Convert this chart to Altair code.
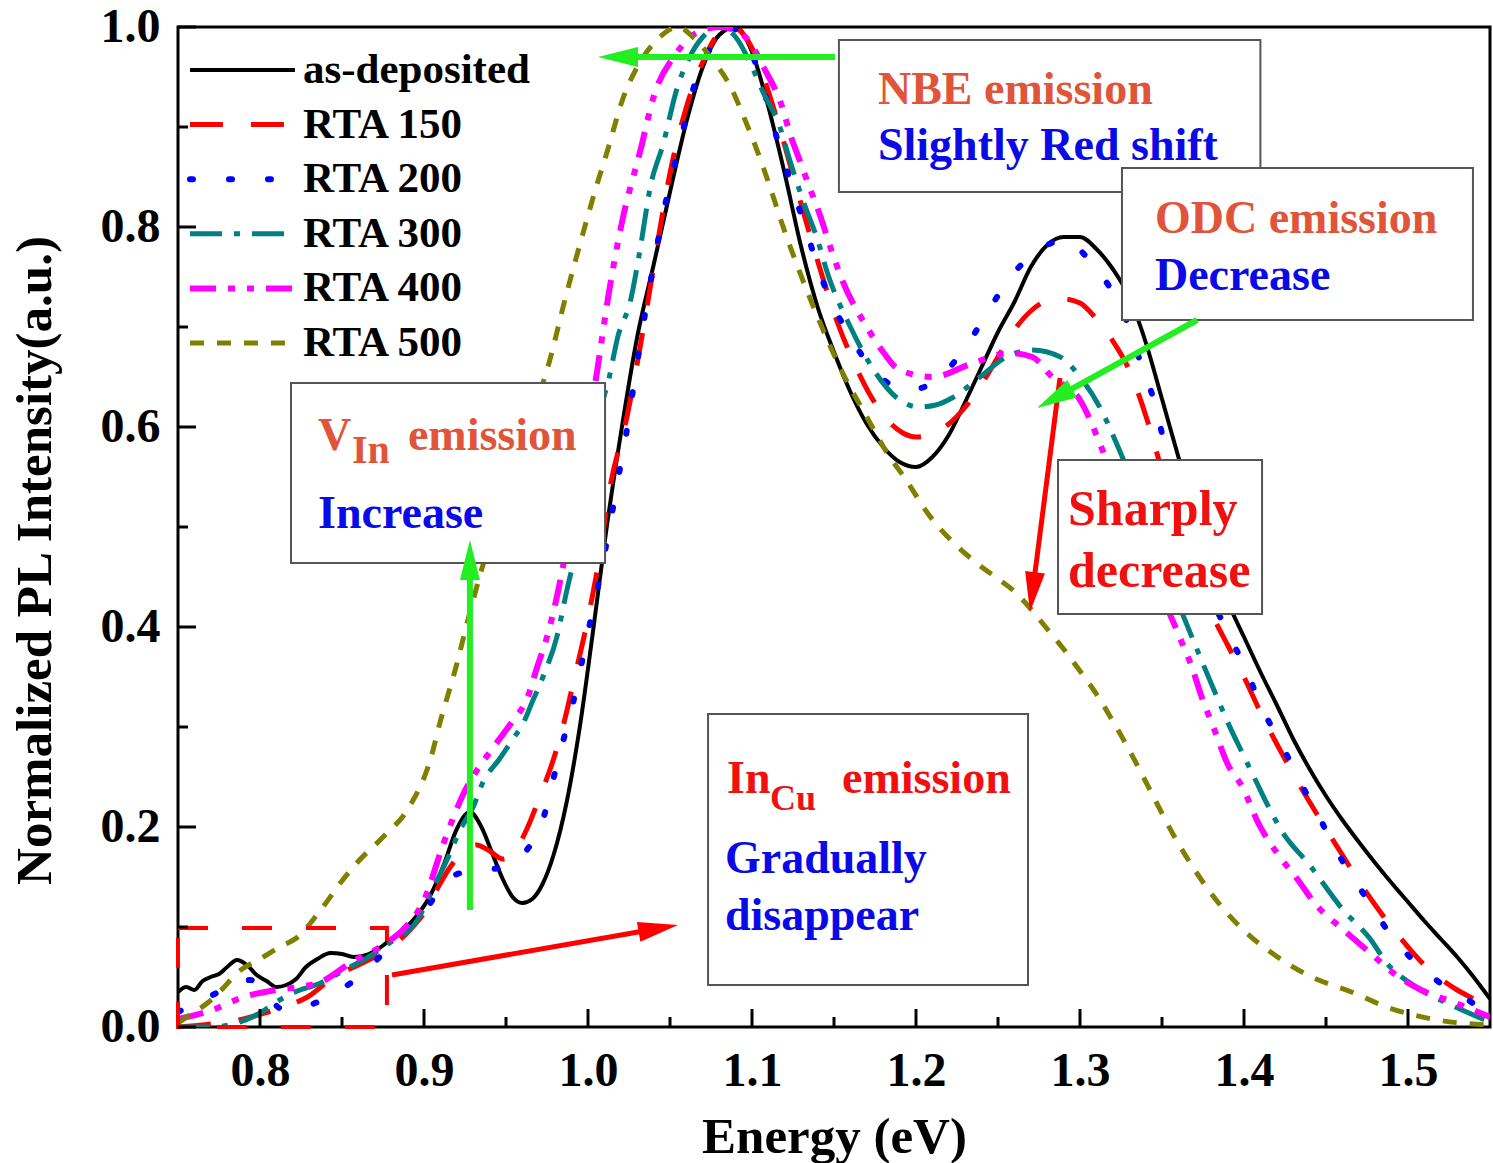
import math
import altair as alt
import pandas as pd

# ---------------- data (Energy in eV, normalized PL intensity) ----------------
asdep_e = [0.750, 0.755, 0.760, 0.765, 0.770, 0.775, 0.780, 0.786, 0.792, 0.798, 0.804, 0.810, 0.816,
           0.822, 0.828, 0.835, 0.843, 0.850, 0.857, 0.865, 0.872, 0.880, 0.888, 0.896, 0.904, 0.912,
           0.920, 0.928, 0.935, 0.942, 0.948, 0.954, 0.960, 0.966, 0.972, 0.979, 0.987, 0.995, 1.003,
           1.011, 1.020, 1.030, 1.040, 1.050, 1.060, 1.070, 1.080, 1.090, 1.100, 1.110, 1.120, 1.130,
           1.140, 1.150, 1.160, 1.170, 1.180, 1.190, 1.200, 1.210, 1.220, 1.230, 1.240, 1.250, 1.260,
           1.270, 1.280, 1.290, 1.300, 1.310, 1.320, 1.330, 1.340, 1.350, 1.360, 1.370, 1.380, 1.390,
           1.400, 1.410, 1.420, 1.430, 1.440, 1.450, 1.460, 1.470, 1.480, 1.490, 1.500, 1.510, 1.520,
           1.530, 1.540, 1.550]
asdep_v = [0.035, 0.040, 0.037, 0.046, 0.050, 0.053, 0.060, 0.067, 0.062, 0.052, 0.046, 0.040, 0.042,
           0.048, 0.060, 0.068, 0.074, 0.073, 0.070, 0.072, 0.078, 0.088, 0.098, 0.112, 0.132, 0.162,
           0.198, 0.215, 0.200, 0.172, 0.148, 0.130, 0.124, 0.128, 0.142, 0.172, 0.225, 0.300, 0.395,
           0.495, 0.593, 0.690, 0.762, 0.835, 0.905, 0.960, 0.992, 1.000, 0.975, 0.920, 0.853, 0.780,
           0.720, 0.675, 0.635, 0.603, 0.580, 0.565, 0.560, 0.570, 0.592, 0.625, 0.660, 0.695, 0.725,
           0.760, 0.782, 0.790, 0.790, 0.778, 0.758, 0.730, 0.685, 0.628, 0.570, 0.515, 0.465, 0.425,
           0.390, 0.355, 0.322, 0.288, 0.258, 0.231, 0.207, 0.185, 0.164, 0.144, 0.125, 0.106, 0.088,
           0.070, 0.050, 0.028]

rta150_e = [0.750, 0.770, 0.790, 0.805, 0.818, 0.829, 0.845, 0.860, 0.872, 0.883, 0.892, 0.900, 0.908,
            0.916, 0.924, 0.932, 0.940, 0.948, 0.955, 0.963, 0.971, 0.979, 0.985, 0.991, 1.000, 1.007,
            1.013, 1.024, 1.036, 1.043, 1.050, 1.060, 1.070, 1.080, 1.088, 1.096, 1.105, 1.112, 1.119,
            1.127, 1.135, 1.143, 1.152, 1.162, 1.172, 1.182, 1.192, 1.200, 1.210, 1.220, 1.230, 1.240,
            1.250, 1.260, 1.270, 1.280, 1.290, 1.300, 1.310, 1.320, 1.330, 1.340, 1.350, 1.360, 1.370,
            1.380, 1.390, 1.400, 1.410, 1.420, 1.430, 1.440, 1.450, 1.460, 1.470, 1.480, 1.490, 1.500,
            1.510, 1.520, 1.530, 1.540, 1.550]
rta150_v = [0.000, 0.003, 0.008, 0.015, 0.022, 0.030, 0.050, 0.062, 0.072, 0.084, 0.098, 0.114, 0.138,
            0.160, 0.175, 0.182, 0.176, 0.168, 0.175, 0.199, 0.232, 0.268, 0.302, 0.344, 0.409, 0.470,
            0.536, 0.612, 0.720, 0.790, 0.854, 0.920, 0.965, 0.994, 1.000, 0.990, 0.960, 0.925, 0.887,
            0.840, 0.794, 0.750, 0.705, 0.665, 0.632, 0.608, 0.594, 0.590, 0.593, 0.603, 0.620, 0.643,
            0.670, 0.697, 0.716, 0.726, 0.728, 0.724, 0.708, 0.686, 0.657, 0.612, 0.556, 0.500, 0.452,
            0.414, 0.382, 0.350, 0.315, 0.283, 0.253, 0.225, 0.198, 0.172, 0.146, 0.122, 0.100, 0.080,
            0.062, 0.048, 0.037, 0.028, 0.018]

rta200_e = [0.750, 0.771, 0.794, 0.815, 0.838, 0.860, 0.883, 0.900, 0.914, 0.925, 0.937, 0.948, 0.960,
            0.973, 0.979, 0.985, 0.991, 0.996, 1.001, 1.006, 1.012, 1.018, 1.024, 1.030, 1.038, 1.046,
            1.058, 1.064, 1.075, 1.085, 1.095, 1.103, 1.115, 1.131, 1.146, 1.160, 1.175, 1.185, 1.194,
            1.205, 1.219, 1.228, 1.237, 1.251, 1.260, 1.270, 1.280, 1.292, 1.300, 1.309, 1.318, 1.329,
            1.337, 1.345, 1.351, 1.360, 1.370, 1.380, 1.390, 1.401, 1.411, 1.423, 1.435, 1.447, 1.460,
            1.475, 1.490, 1.500, 1.512, 1.523, 1.535, 1.550]
rta200_v = [0.015, 0.032, 0.047, 0.017, 0.027, 0.050, 0.087, 0.115, 0.147, 0.155, 0.157, 0.160, 0.172,
            0.210, 0.249, 0.287, 0.325, 0.363, 0.402, 0.440, 0.490, 0.545, 0.600, 0.665, 0.744, 0.814,
            0.897, 0.937, 0.980, 1.000, 0.990, 0.960, 0.890, 0.807, 0.734, 0.690, 0.655, 0.642, 0.637,
            0.640, 0.657, 0.675, 0.697, 0.734, 0.755, 0.770, 0.782, 0.787, 0.777, 0.760, 0.740, 0.704,
            0.664, 0.627, 0.587, 0.535, 0.480, 0.430, 0.395, 0.358, 0.319, 0.282, 0.243, 0.206, 0.166,
            0.128, 0.091, 0.072, 0.054, 0.040, 0.029, 0.010]

rta300_e = [0.750, 0.770, 0.786, 0.800, 0.812, 0.820, 0.837, 0.855, 0.863, 0.879, 0.896, 0.905, 0.914,
            0.922, 0.930, 0.936, 0.946, 0.955, 0.960, 0.966, 0.973, 0.981, 0.987, 0.993, 1.000, 1.007,
            1.013, 1.018, 1.026, 1.032, 1.038, 1.046, 1.054, 1.062, 1.070, 1.080, 1.090, 1.100, 1.107,
            1.117, 1.123, 1.131, 1.140, 1.146, 1.160, 1.175, 1.190, 1.202, 1.212, 1.223, 1.239, 1.255,
            1.271, 1.288, 1.300, 1.312, 1.324, 1.340, 1.352, 1.362, 1.372, 1.384, 1.390, 1.399, 1.407,
            1.415, 1.423, 1.440, 1.460, 1.477, 1.487, 1.504, 1.529, 1.550]
rta300_v = [0.000, 0.000, 0.004, 0.014, 0.027, 0.034, 0.044, 0.060, 0.067, 0.084, 0.107, 0.137, 0.167,
            0.197, 0.220, 0.245, 0.268, 0.290, 0.302, 0.325, 0.352, 0.390, 0.436, 0.478, 0.536, 0.612,
            0.650, 0.689, 0.727, 0.780, 0.840, 0.884, 0.937, 0.970, 0.990, 1.000, 0.990, 0.960, 0.934,
            0.900, 0.867, 0.827, 0.787, 0.754, 0.700, 0.655, 0.627, 0.620, 0.622, 0.630, 0.650, 0.670,
            0.677, 0.670, 0.650, 0.620, 0.577, 0.510, 0.455, 0.415, 0.375, 0.328, 0.305, 0.274, 0.247,
            0.220, 0.196, 0.162, 0.118, 0.088, 0.064, 0.041, 0.020, 0.005]

rta400_e = [0.750, 0.771, 0.790, 0.810, 0.824, 0.837, 0.855, 0.877, 0.887, 0.900, 0.912, 0.918, 0.924,
            0.932, 0.942, 0.954, 0.963, 0.969, 0.975, 0.981, 0.987, 0.995, 1.005, 1.013, 1.021, 1.032,
            1.040, 1.054, 1.066, 1.080, 1.092, 1.099, 1.107, 1.119, 1.123, 1.129, 1.135, 1.141, 1.149,
            1.155, 1.170, 1.180, 1.190, 1.210, 1.235, 1.257, 1.271, 1.283, 1.300, 1.312, 1.330, 1.345,
            1.355, 1.362, 1.368, 1.374, 1.382, 1.390, 1.399, 1.409, 1.421, 1.432, 1.444, 1.460, 1.477,
            1.491, 1.508, 1.529, 1.550]
rta400_v = [0.008, 0.017, 0.030, 0.037, 0.040, 0.045, 0.064, 0.084, 0.097, 0.127, 0.184, 0.210, 0.233,
            0.256, 0.279, 0.306, 0.329, 0.360, 0.390, 0.430, 0.480, 0.555, 0.650, 0.737, 0.807, 0.877,
            0.930, 0.974, 0.994, 1.000, 0.995, 0.984, 0.960, 0.917, 0.894, 0.867, 0.840, 0.814, 0.774,
            0.747, 0.700, 0.675, 0.657, 0.650, 0.664, 0.674, 0.670, 0.650, 0.627, 0.584, 0.500, 0.445,
            0.412, 0.385, 0.361, 0.331, 0.297, 0.263, 0.240, 0.203, 0.172, 0.149, 0.122, 0.098, 0.074,
            0.054, 0.037, 0.024, 0.010]

rta500_e = [0.750, 0.759, 0.768, 0.777, 0.786, 0.802, 0.812, 0.823, 0.837, 0.849, 0.859, 0.875, 0.891,
            0.904, 0.910, 0.920, 0.926, 0.934, 0.945, 0.955, 0.965, 0.975, 0.987, 0.997, 1.005, 1.012,
            1.021, 1.030, 1.042, 1.055, 1.064, 1.076, 1.087, 1.095, 1.103, 1.111, 1.119, 1.127, 1.140,
            1.155, 1.170, 1.182, 1.194, 1.207, 1.223, 1.237, 1.251, 1.259, 1.270, 1.280, 1.290, 1.300,
            1.310, 1.320, 1.329, 1.343, 1.357, 1.372, 1.384, 1.399, 1.417, 1.440, 1.467, 1.487, 1.518,
            1.550]
rta500_v = [0.004, 0.014, 0.024, 0.038, 0.054, 0.070, 0.080, 0.090, 0.117, 0.144, 0.164, 0.190, 0.220,
            0.268, 0.306, 0.363, 0.402, 0.451, 0.510, 0.565, 0.610, 0.657, 0.734, 0.794, 0.840, 0.877,
            0.927, 0.960, 0.987, 1.000, 0.990, 0.967, 0.940, 0.910, 0.877, 0.840, 0.800, 0.764, 0.710,
            0.655, 0.610, 0.575, 0.547, 0.514, 0.484, 0.464, 0.447, 0.437, 0.418, 0.398, 0.378, 0.356,
            0.333, 0.306, 0.280, 0.236, 0.192, 0.152, 0.125, 0.098, 0.074, 0.051, 0.034, 0.020, 0.007,
            0.002]

series_names = ["as-deposited", "RTA 150", "RTA 200", "RTA 300", "RTA 400", "RTA 500"]
series_e = [asdep_e, rta150_e, rta200_e, rta300_e, rta400_e, rta500_e]
series_v = [asdep_v, rta150_v, rta200_v, rta300_v, rta400_v, rta500_v]
series_colors = ["#000000", "#FF0000", "#0000FF", "#008080", "#FF00FF", "#808000"]
series_dash = [None, [33, 28], [3, 36], [32, 12, 6, 12], [26, 12, 7, 12, 7, 12], [14, 13]]
series_width = [4, 5, 6, 5, 6, 5]
series_cap = ["butt", "butt", "round", "butt", "butt", "butt"]

x_major = [0.8, 0.9, 1.0, 1.1, 1.2, 1.3, 1.4, 1.5]
x_minor = [0.85, 0.95, 1.05, 1.15, 1.25, 1.35, 1.45]
y_major = [0.0, 0.2, 0.4, 0.6, 0.8, 1.0]
y_minor = [0.1, 0.3, 0.5, 0.7, 0.9]

# annotation boxes (energy / intensity extents)
box_x1 = [1.153, 1.3256, 0.8189, 1.2866, 1.0732]
box_x2 = [1.410, 1.5396, 1.0104, 1.4110, 1.2683]
box_y1 = [0.835, 0.707, 0.464, 0.413, 0.042]
box_y2 = [0.987, 0.859, 0.644, 0.567, 0.313]

CORAL, BLUE, RED = "#E0553A", "#0A0AE6", "#F01010"
note_text = ["NBE emission", "Slightly Red shift", "ODC emission", "Decrease",
             "V", "In", "emission", "Increase", "Sharply", "decrease",
             "In", "Cu", "emission", "Gradually", "disappear"]
note_x = [1.1768, 1.1768, 1.3457, 1.3457,
          0.8354, 0.8561, 0.8902, 0.8354, 1.2927, 1.2927,
          1.0848, 1.1110, 1.1549, 1.0835, 1.0835]
note_y = [0.923, 0.867, 0.794, 0.737,
          0.577, 0.564, 0.577, 0.499, 0.502, 0.440,
          0.234, 0.217, 0.234, 0.154, 0.097]
note_color = [CORAL, BLUE, CORAL, BLUE,
              CORAL, CORAL, CORAL, BLUE, RED, RED,
              RED, RED, RED, BLUE, BLUE]
note_size = [46, 46, 46, 46,
             46, 40, 46, 46, 50, 50,
             46, 36, 46, 46, 46]

GREEN = "#22EE22"
arrow_x1 = [1.1506, 0.928, 1.3714, 1.2878, 0.8805]
arrow_y1 = [0.970, 0.117, 0.707, 0.649, 0.052]
arrow_x2 = [1.0061, 0.928, 1.2738, 1.2695, 1.0549]
arrow_y2 = [0.970, 0.487, 0.619, 0.415, 0.102]
arrow_color = [GREEN, GREEN, GREEN, "#FF0000", "#FF0000"]
arrow_width = [6, 6, 6, 5, 5]

# red dashed region marking the In_Cu emission
region_x = [0.75, 0.8774]
region_y = [0.0, 0.099]

# ---------------- layout ----------------
X_MIN, X_MAX = 0.75, 1.55
W, H = 1312, 1000
FONT = "Liberation Serif"

xs = alt.Scale(domain=[X_MIN, X_MAX], nice=False, zero=False)
ys = alt.Scale(domain=[0, 1], nice=False, zero=False)
xaxis = alt.Axis(values=x_major, format=".1f", ticks=False, domain=False, grid=False,
                 labelFont=FONT, labelFontWeight="bold", labelFontSize=48, labelColor="black",
                 labelPadding=20, labelFlush=False, labelOverlap=False,
                 title="Energy (eV)", titleFont=FONT, titleFontWeight="bold", titleFontSize=51,
                 titleColor="black", titleX=W / 2, titleY=125, titleAlign="center",
                 titleBaseline="alphabetic")
yaxis = alt.Axis(values=y_major, format=".1f", ticks=False, domain=False, grid=False,
                 labelFont=FONT, labelFontWeight="bold", labelFontSize=48, labelColor="black",
                 labelPadding=18, labelFlush=False, labelOverlap=False,
                 title="Normalized PL Intensity(a.u.)", titleFont=FONT, titleFontWeight="bold",
                 titleFontSize=51, titleColor="black", titleAngle=270, titleX=-128, titleY=533,
                 titleAlign="center", titleBaseline="alphabetic")


def X(f="x"):
    return alt.X(f"{f}:Q", scale=xs, axis=xaxis)


def Y(f="y"):
    return alt.Y(f"{f}:Q", scale=ys, axis=yaxis)


layers = []

# curves
for name, es, vs, col, dash, sw, cap in zip(series_names, series_e, series_v, series_colors,
                                            series_dash, series_width, series_cap):
    df = pd.DataFrame({"x": es, "y": vs, "series": name})
    mk = dict(color=col, strokeWidth=sw, interpolate="monotone", clip=True, strokeCap=cap)
    if dash:
        mk["strokeDash"] = dash
    layers.append(alt.Chart(df).mark_line(**mk).encode(x=X(), y=Y()))

# red dashed region
reg_df = pd.DataFrame({"x": [region_x[0]], "x2": [region_x[1]], "y": [region_y[0]], "y2": [region_y[1]]})
layers.append(alt.Chart(reg_df).mark_rect(fillOpacity=0, stroke="#FF0000", strokeWidth=4,
                                          strokeDash=[30, 34]).encode(
    x=X(), x2="x2:Q", y=Y(), y2="y2:Q"))

# annotation boxes
box_df = pd.DataFrame({"x": box_x1, "x2": box_x2, "y": box_y1, "y2": box_y2})
layers.append(alt.Chart(box_df).mark_rect(fill="white", stroke="#555555", strokeWidth=2).encode(
    x=X(), x2="x2:Q", y=Y(), y2="y2:Q"))

# annotation text
note_df = pd.DataFrame({"x": note_x, "y": note_y, "t": note_text, "c": note_color, "s": note_size})
layers.append(alt.Chart(note_df).mark_text(align="left", baseline="alphabetic", font=FONT,
                                           fontWeight="bold").encode(
    x=X(), y=Y(), text="t:N", color=alt.Color("c:N", scale=None), size=alt.Size("s:Q", scale=None)))

# arrows
px_per_x = W / (X_MAX - X_MIN)
ax_end, ay_end, angs = [], [], []
for x1, y1, x2, y2 in zip(arrow_x1, arrow_y1, arrow_x2, arrow_y2):
    sx = (x2 - x1) * px_per_x
    sy = -(y2 - y1) * H
    L = math.hypot(sx, sy)
    ux, uy = sx / L, sy / L
    angs.append(math.degrees(math.atan2(ux, -uy)) % 360)
    ax_end.append(x2 - ux * 20 / px_per_x)
    ay_end.append(y2 + uy * 20 / H)
arr_df = pd.DataFrame({"x": arrow_x1, "y": arrow_y1, "x2": ax_end, "y2": ay_end,
                       "c": arrow_color, "w": arrow_width})
layers.append(alt.Chart(arr_df).mark_rule().encode(
    x=X(), y=Y(), x2="x2:Q", y2="y2:Q", color=alt.Color("c:N", scale=None),
    strokeWidth=alt.StrokeWidth("w:Q", scale=None)))
head_df = pd.DataFrame({"x": arrow_x2, "y": arrow_y2, "c": arrow_color, "a": angs})
layers.append(alt.Chart(head_df).mark_point(shape="M0,0L0.5,2L-0.5,2Z", filled=True, size=1600,
                                            opacity=1, strokeWidth=0).encode(
    x=X(), y=Y(), color=alt.Color("c:N", scale=None), angle=alt.Angle("a:Q", scale=None)))

# inward ticks
for vals, ln in ((x_major, 18), (x_minor, 10)):
    tdf = pd.DataFrame({"x": vals})
    layers.append(alt.Chart(tdf).mark_rule(color="black", strokeWidth=3).encode(
        x=X(), y=alt.value(H), y2=alt.value(H - ln)))
for vals, ln in ((y_major, 18), (y_minor, 10)):
    tdf = pd.DataFrame({"y": vals})
    layers.append(alt.Chart(tdf).mark_rule(color="black", strokeWidth=3).encode(
        y=Y(), x=alt.value(0), x2=alt.value(ln)))

# legend (inside plot, top-left)
leg_top, leg_step = 0.957, 0.0546
leg_x1, leg_x2, leg_tx = 0.7573, 0.8213, 0.8262
for i, (name, col, dash, sw, cap) in enumerate(zip(series_names, series_colors, series_dash,
                                                   series_width, series_cap)):
    ldf = pd.DataFrame({"x": [leg_x1], "x2": [leg_x2], "y": [leg_top - i * leg_step]})
    mk = dict(color=col, strokeWidth=sw, strokeCap=cap)
    if dash:
        mk["strokeDash"] = dash
    layers.append(alt.Chart(ldf).mark_rule(**mk).encode(x=X(), x2="x2:Q", y=Y()))
leg_df = pd.DataFrame({"x": [leg_tx] * len(series_names),
                       "y": [leg_top - i * leg_step for i in range(len(series_names))],
                       "t": series_names})
layers.append(alt.Chart(leg_df).mark_text(align="left", baseline="middle", font=FONT,
                                          fontWeight="bold", fontSize=43, color="black").encode(
    x=X(), y=Y(), text="t:N"))

chart = alt.layer(*layers).properties(
    width=W, height=H,
    autosize=alt.AutoSizeParams(type="none"),
    padding={"left": 178, "top": 27, "right": 3, "bottom": 136},
    background="white",
).configure_view(stroke="black", strokeWidth=3)

chart.save("out.html", embed_options={"renderer": "svg", "actions": False})
